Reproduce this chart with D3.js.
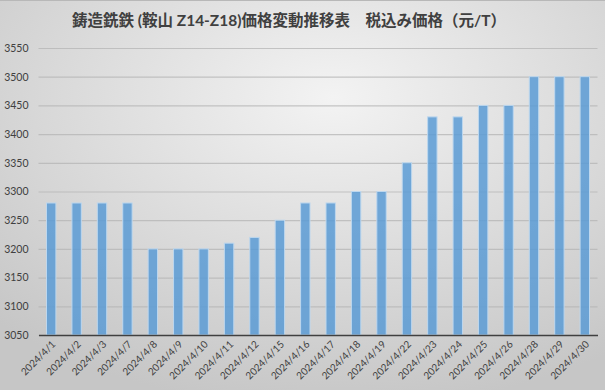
<!DOCTYPE html>
<html><head><meta charset="utf-8">
<script src="https://cdn.jsdelivr.net/npm/d3@7"></script>
<style>html,body{margin:0;padding:0;overflow:hidden;background:#fff}</style>
</head><body>
<script>
const categories = ["2024/4/1","2024/4/2","2024/4/3","2024/4/7","2024/4/8","2024/4/9","2024/4/10","2024/4/11","2024/4/12","2024/4/15","2024/4/16","2024/4/17","2024/4/18","2024/4/19","2024/4/22","2024/4/23","2024/4/24","2024/4/25","2024/4/26","2024/4/28","2024/4/29","2024/4/30"];
const prices = [3280,3280,3280,3280,3200,3200,3200,3210,3220,3250,3280,3280,3300,3300,3350,3430,3430,3450,3450,3500,3500,3500];
const yTicks = [3050,3100,3150,3200,3250,3300,3350,3400,3450,3500,3550];
const title = "鋳造銑鉄 (鞍山 Z14-Z18)価格変動推移表　税込み価格（元/T）";

const W = 605, H = 390;
const svg = d3.select("body").append("svg").attr("width", W).attr("height", H);
const defs = svg.append("defs");
const rg = defs.append("radialGradient").attr("id","bg").attr("cx","0.55").attr("cy","0.25").attr("r","0.8");
rg.append("stop").attr("offset","0").attr("stop-color","#f3f3f3");
rg.append("stop").attr("offset","1").attr("stop-color","#c6c6c6");
svg.append("rect").attr("width",W).attr("height",H).attr("fill","url(#bg)");
svg.append("line").attr("x1",0).attr("x2",W).attr("y1",0.5).attr("y2",0.5).attr("stroke","#b8b8b8");

const font = "Lato, 'Noto Sans CJK JP', sans-serif";
const x = d3.scaleBand().domain(categories).range([38.5, 597.5]).paddingInner(0.63).paddingOuter(0.315);
const y = d3.scaleLinear().domain([3050,3550]).range([335, 48]);

svg.append("text").attr("x", 289).attr("y", 26).attr("text-anchor","middle")
  .attr("font-family", font).attr("font-weight","bold").attr("font-size", 15.5).attr("fill","#404040").text(title);

const ya = svg.append("g").attr("transform","translate(38.5,0)")
  .call(d3.axisLeft(y).tickValues(yTicks).tickSize(-559).tickPadding(10).tickFormat(d3.format("d")));
ya.select(".domain").remove();
ya.selectAll(".tick line").attr("stroke","#b4b4b4").attr("stroke-width",1.2).attr("stroke-opacity",0.75);
ya.selectAll(".tick text").attr("font-family",font).attr("font-size",10.5).attr("fill","#404040");

svg.append("g").selectAll("rect").data(prices).join("rect")
  .attr("x",(d,i)=>x(categories[i])).attr("width",x.bandwidth())
  .attr("y",d=>y(d)).attr("height",d=>y(3050)-y(d))
  .attr("fill","#5b9bd5").attr("fill-opacity",0.85).attr("stroke","#bdd7ee").attr("stroke-width",1);

const xa = svg.append("g").attr("transform","translate(0,335)").call(d3.axisBottom(x).tickSize(0).tickPadding(0));
xa.select(".domain").attr("stroke","#404040").attr("stroke-width",1.3);
xa.selectAll(".tick text").attr("font-family",font).attr("font-size",10).attr("fill","#404040")
  .attr("text-anchor","end").attr("dy",null).attr("y",0)
  .attr("transform","translate(5,10) rotate(-45)");
</script>
</body></html>
